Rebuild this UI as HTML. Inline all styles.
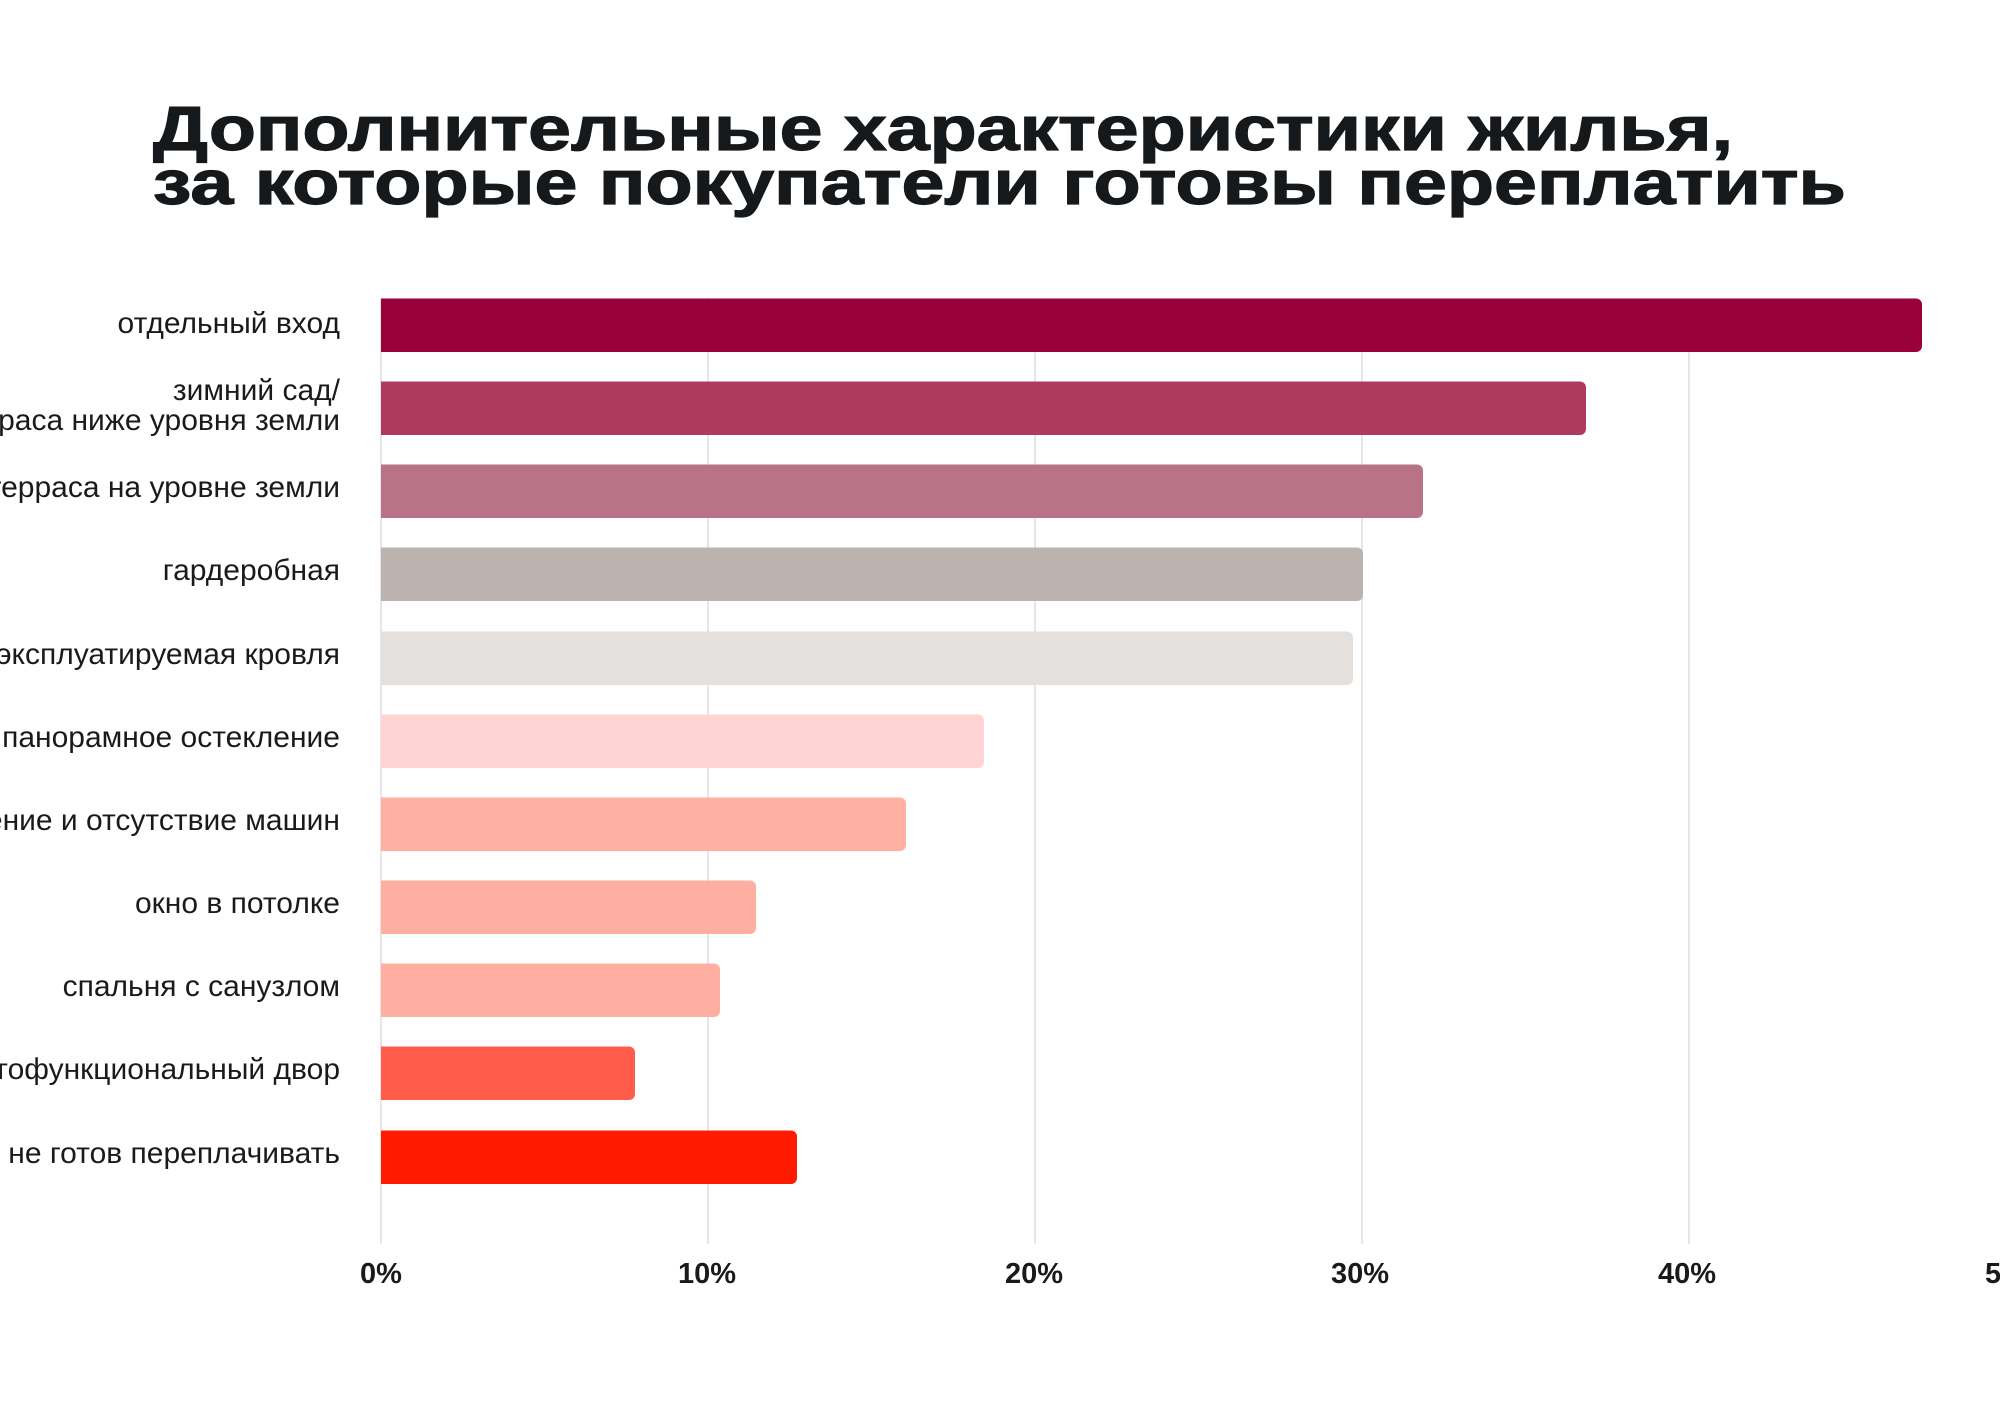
<!DOCTYPE html>
<html><head><meta charset="utf-8"><style>
html,body{margin:0;padding:0;background:#fff;}
svg{display:block;}
.t{font-family:"Liberation Sans","DejaVu Sans",sans-serif;font-weight:bold;font-size:62px;fill:#16191b;stroke:#16191b;stroke-width:1.2px;}
.l{font-family:"Liberation Sans","DejaVu Sans",sans-serif;font-size:30px;fill:#1a1a1a;}
.x{font-family:"Liberation Sans","DejaVu Sans",sans-serif;font-weight:bold;font-size:29px;fill:#1a1a1a;}
</style></head><body>
<svg width="2000" height="1414" viewBox="0 0 2000 1414" xmlns="http://www.w3.org/2000/svg">
<rect width="2000" height="1414" fill="#fff"/>
<text class="t" x="153" y="150" textLength="1580" lengthAdjust="spacingAndGlyphs">Дополнительные характеристики жилья,</text>
<text class="t" x="153" y="204" textLength="1693" lengthAdjust="spacingAndGlyphs">за которые покупатели готовы переплатить</text>
<g stroke="#dddddd" stroke-width="1.5">
<line x1="381" y1="298" x2="381" y2="1244"/>
<line x1="708" y1="298" x2="708" y2="1244"/>
<line x1="1035" y1="298" x2="1035" y2="1244"/>
<line x1="1362" y1="298" x2="1362" y2="1244"/>
<line x1="1689" y1="298" x2="1689" y2="1244"/>
</g>
<g>
<path d="M381 298.5H1916a6 6 0 0 1 6 6V346a6 6 0 0 1-6 6H381Z" fill="#9a003a"/>
<path d="M381 381.5H1580a6 6 0 0 1 6 6V429a6 6 0 0 1-6 6H381Z" fill="#ae3a5f"/>
<path d="M381 464.5H1417a6 6 0 0 1 6 6V512a6 6 0 0 1-6 6H381Z" fill="#b97386"/>
<path d="M381 547.5H1357a6 6 0 0 1 6 6V595a6 6 0 0 1-6 6H381Z" fill="#bcb3ae"/>
<path d="M381 631.5H1347a6 6 0 0 1 6 6V679a6 6 0 0 1-6 6H381Z" fill="#e4e0dd"/>
<path d="M381 714.5H978a6 6 0 0 1 6 6V762a6 6 0 0 1-6 6H381Z" fill="#ffd4d2"/>
<path d="M381 797.5H900a6 6 0 0 1 6 6V845a6 6 0 0 1-6 6H381Z" fill="#ffb0a3"/>
<path d="M381 880.5H750a6 6 0 0 1 6 6V928a6 6 0 0 1-6 6H381Z" fill="#ffafa2"/>
<path d="M381 963.5H714a6 6 0 0 1 6 6V1011a6 6 0 0 1-6 6H381Z" fill="#ffafa2"/>
<path d="M381 1046.5H629a6 6 0 0 1 6 6V1094a6 6 0 0 1-6 6H381Z" fill="#ff5c4b"/>
<path d="M381 1130.5H791a6 6 0 0 1 6 6V1178a6 6 0 0 1-6 6H381Z" fill="#ff1a00"/>
</g>
<g class="l" text-anchor="end">
<text x="340" y="333">отдельный вход</text>
<text x="340" y="400">зимний сад/</text>
<text x="340" y="430">терраса ниже уровня земли</text>
<text x="340" y="497">терраса на уровне земли</text>
<text x="340" y="580">гардеробная</text>
<text x="340" y="664">эксплуатируемая кровля</text>
<text x="340" y="747">панорамное остекление</text>
<text x="340" y="830">озеленение и отсутствие машин</text>
<text x="340" y="913">окно в потолке</text>
<text x="340" y="996">спальня с санузлом</text>
<text x="340" y="1079">многофункциональный двор</text>
<text x="340" y="1163">не готов переплачивать</text>
</g>
<g class="x" text-anchor="middle">
<text x="381" y="1283">0%</text>
<text x="707" y="1283">10%</text>
<text x="1034" y="1283">20%</text>
<text x="1360" y="1283">30%</text>
<text x="1687" y="1283">40%</text>
<text x="2014" y="1283">50%</text>
</g>
</svg>
</body></html>
